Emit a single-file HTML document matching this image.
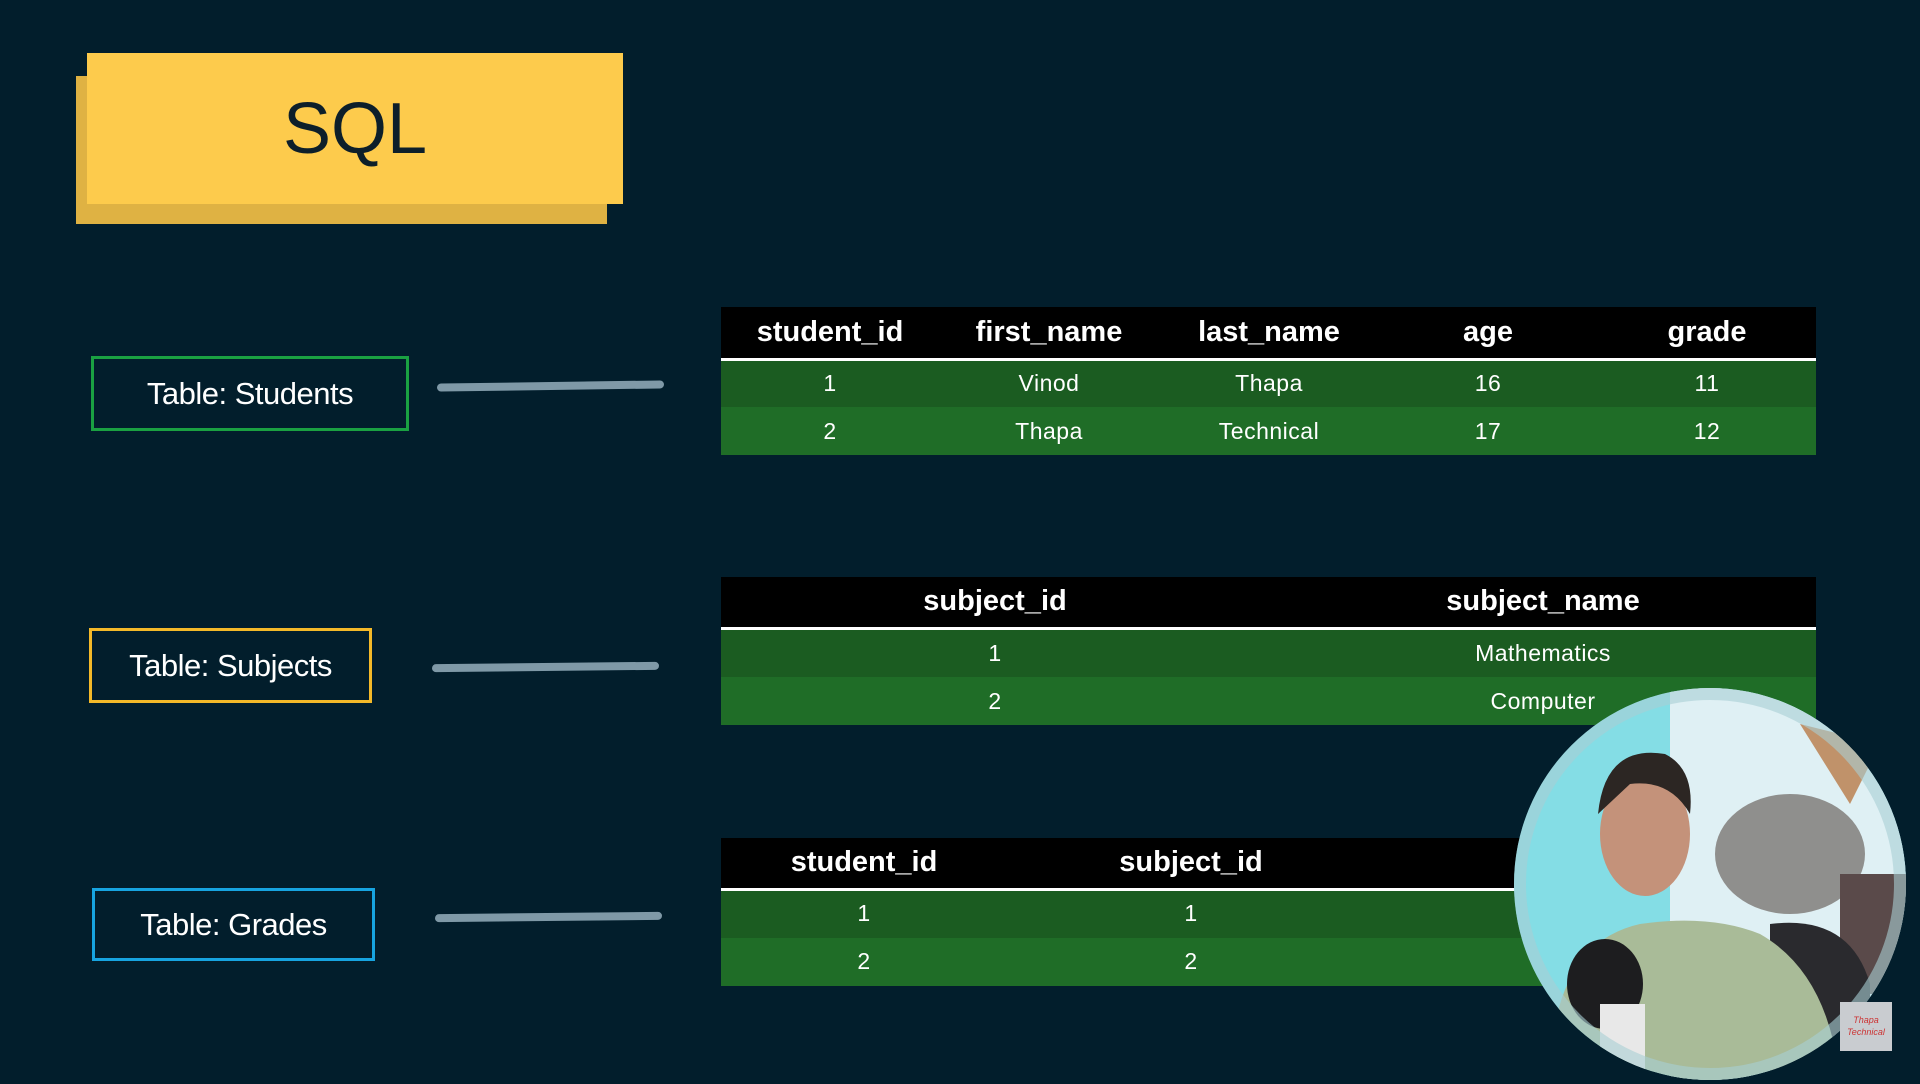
<!DOCTYPE html>
<html><head><meta charset="utf-8"><style>
body{margin:0;width:1920px;height:1080px;background:#021e2c;position:relative;overflow:hidden;font-family:"Liberation Sans",sans-serif}
.a{position:absolute}
.lbl{position:absolute;box-sizing:border-box;border:3px solid;color:#fff;font-size:31px;display:flex;align-items:center;justify-content:center;letter-spacing:-0.5px}
.ln{position:absolute;height:8px;border-radius:4px;background:#7f99a7}
.hd{position:absolute;background:#000;color:#fff;font-weight:bold;font-size:29px;border-bottom:3px solid #fff;box-sizing:border-box}
.r1{position:absolute;background:#1b5c21}
.r2{position:absolute;background:#1f6d27}
.c{position:absolute;color:#fff;text-align:center;transform:translateX(-50%);white-space:nowrap}
.h{font-weight:bold;font-size:29px}
.d{font-size:23px;letter-spacing:0.5px}
</style></head><body>
<div class="a" style="left:76px;top:76px;width:531px;height:148px;background:#dfb243"></div>
<div class="a" style="left:87px;top:53px;width:536px;height:151px;background:#fdcb4c"></div>
<div class="a" style="left:87px;top:53px;width:536px;height:151px;display:flex;align-items:center;justify-content:center;font-size:72px;color:#0d1f2a">SQL</div>

<div class="lbl" style="left:91px;top:356px;width:318px;height:75px;border-color:#1aa142">Table: Students</div>
<div class="lbl" style="left:89px;top:628px;width:283px;height:75px;border-color:#f4b929">Table: Subjects</div>
<div class="lbl" style="left:92px;top:888px;width:283px;height:73px;border-color:#17a4e0">Table: Grades</div>
<div class="ln" style="left:437px;top:382px;width:227px;transform:rotate(-0.8deg)"></div>
<div class="ln" style="left:432px;top:663px;width:227px;transform:rotate(-0.6deg)"></div>
<div class="ln" style="left:435px;top:913px;width:227px;transform:rotate(-0.6deg)"></div>

<!-- Students -->
<div class="hd" style="left:721px;top:307px;width:1095px;height:54px"></div>
<div class="r1" style="left:721px;top:361px;width:1095px;height:46px"></div>
<div class="r2" style="left:721px;top:407px;width:1095px;height:48px"></div>
<div class="c h" style="left:830px;top:316px">student_id</div>
<div class="c h" style="left:1049px;top:316px">first_name</div>
<div class="c h" style="left:1269px;top:316px">last_name</div>
<div class="c h" style="left:1488px;top:316px">age</div>
<div class="c h" style="left:1707px;top:316px">grade</div>
<div class="c d" style="left:830px;top:370px">1</div>
<div class="c d" style="left:1049px;top:370px">Vinod</div>
<div class="c d" style="left:1269px;top:370px">Thapa</div>
<div class="c d" style="left:1488px;top:370px">16</div>
<div class="c d" style="left:1707px;top:370px">11</div>
<div class="c d" style="left:830px;top:418px">2</div>
<div class="c d" style="left:1049px;top:418px">Thapa</div>
<div class="c d" style="left:1269px;top:418px">Technical</div>
<div class="c d" style="left:1488px;top:418px">17</div>
<div class="c d" style="left:1707px;top:418px">12</div>

<!-- Subjects -->
<div class="hd" style="left:721px;top:577px;width:1095px;height:53px"></div>
<div class="r1" style="left:721px;top:630px;width:1095px;height:47px"></div>
<div class="r2" style="left:721px;top:677px;width:1095px;height:48px"></div>
<div class="c h" style="left:995px;top:585px">subject_id</div>
<div class="c h" style="left:1543px;top:585px">subject_name</div>
<div class="c d" style="left:995px;top:640px">1</div>
<div class="c d" style="left:1543px;top:640px">Mathematics</div>
<div class="c d" style="left:995px;top:688px">2</div>
<div class="c d" style="left:1543px;top:688px">Computer</div>

<!-- Grades -->
<div class="hd" style="left:721px;top:838px;width:1095px;height:53px"></div>
<div class="r1" style="left:721px;top:891px;width:1095px;height:47px"></div>
<div class="r2" style="left:721px;top:938px;width:1095px;height:48px"></div>
<div class="c h" style="left:864px;top:846px">student_id</div>
<div class="c h" style="left:1191px;top:846px">subject_id</div>
<div class="c d" style="left:864px;top:900px">1</div>
<div class="c d" style="left:1191px;top:900px">1</div>
<div class="c d" style="left:864px;top:948px">2</div>
<div class="c d" style="left:1191px;top:948px">2</div>

<!-- webcam circle -->
<svg class="a" style="left:1510px;top:684px" width="400" height="400" viewBox="0 0 400 400">
<defs><clipPath id="cc"><circle cx="200" cy="200" r="196"/></clipPath></defs>
<g clip-path="url(#cc)">
<rect width="400" height="400" fill="#84dde5"/>
<rect x="160" width="240" height="400" fill="#dff0f4"/>
<path d="M290 40 L370 60 L340 120 Z" fill="#c0926a"/>
<ellipse cx="280" cy="170" rx="75" ry="60" fill="#8f8f8d"/>
<rect x="330" y="190" width="70" height="120" fill="#5a4a4a"/>
<path d="M260 240 Q340 230 360 300 L360 400 L260 400 Z" fill="#2a2a2e"/>
<path d="M40 400 Q40 260 130 240 Q200 230 250 250 Q320 290 330 400 Z" fill="#a9bb98"/>
<ellipse cx="135" cy="150" rx="45" ry="62" fill="#c4927a"/>
<path d="M88 130 Q95 60 155 70 Q185 85 180 130 Q160 95 120 100 Z" fill="#2c2623"/>
<ellipse cx="95" cy="300" rx="38" ry="45" fill="#1d1d1f"/>
<rect x="90" y="320" width="45" height="80" fill="#e8e8e8"/>
</g>
<circle cx="200" cy="200" r="190" fill="none" stroke="#a9cfd4" stroke-opacity="0.6" stroke-width="12"/>
</svg>
<div class="a" style="left:1840px;top:1002px;width:52px;height:49px;background:#c9ccd0;color:#c33;font-size:9px;font-style:italic;text-align:center;line-height:12px;padding-top:12px;box-sizing:border-box">Thapa<br>Technical</div>
</body></html>
